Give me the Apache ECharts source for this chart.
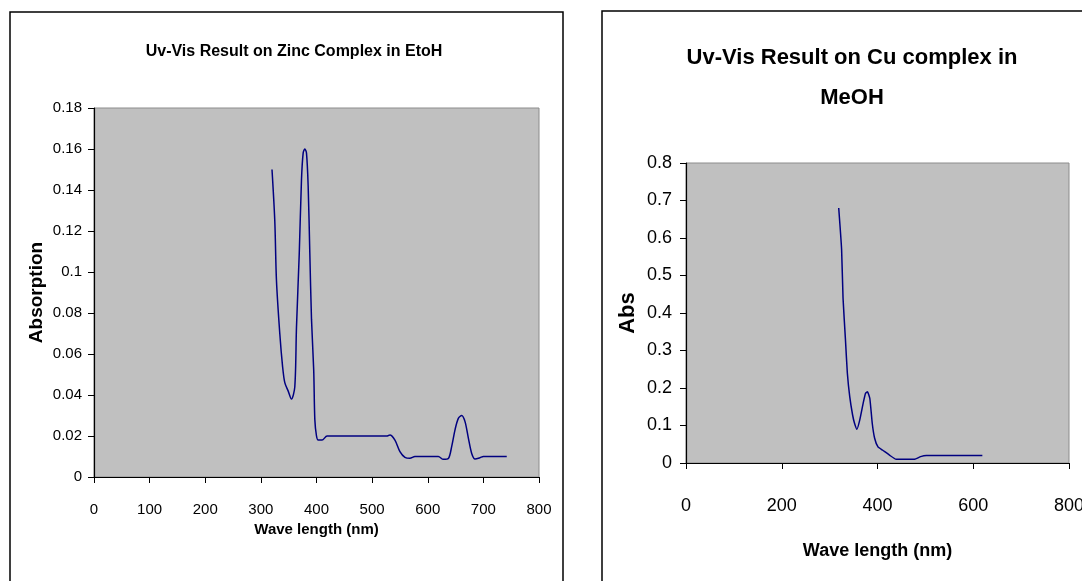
<!DOCTYPE html>
<html>
<head>
<meta charset="utf-8">
<script src="https://cdn.jsdelivr.net/npm/echarts@6/dist/echarts.min.js"></script>
<style>
html,body{margin:0;padding:0;background:#fff;}
#c{width:1082px;height:581px;}
</style>
</head>
<body>
<div id="c"></div>
<script>
// ---- Data ----
const zincTitle = "Uv-Vis Result on Zinc Complex in EtoH";
const cuTitle = "Uv-Vis Result on Cu complex in\nMeOH";
const zincWavelength = [320,325,328,334,339,343,349,355,361,364,369,373,376,379,382,385,388,391,395,397,400,403,410,419,440,480,514,526,532,541,550,559,568,577,600,619,628,637,643,649,655,661,667,673,679,685,694,700,720,742];
const zincAbs = [0.150,0.125,0.096,0.070,0.054,0.046,0.042,0.038,0.044,0.073,0.109,0.145,0.158,0.160,0.158,0.142,0.109,0.077,0.052,0.028,0.020,0.018,0.018,0.020,0.020,0.020,0.020,0.020,0.0205,0.018,0.0124,0.0096,0.0091,0.010,0.010,0.010,0.0086,0.009,0.0148,0.023,0.0286,0.030,0.027,0.019,0.0115,0.0088,0.0094,0.010,0.010,0.010];
const cuWavelength = [319,325,328,333,337,342,348,352,357,363,370,375,379,384,389,394,401,411,425,439,477,490,502,540,580,619];
const cuAbs = [0.68,0.57,0.44,0.33,0.24,0.177,0.128,0.106,0.09,0.115,0.159,0.186,0.19,0.172,0.106,0.066,0.043,0.034,0.021,0.01,0.01,0.017,0.02,0.02,0.02,0.02];
const zincXTicks = {min:0, max:800, interval:100};
const zincYTicks = {min:0, max:0.18, interval:0.02};
const cuXTicks = {min:0, max:800, interval:200};
const cuYTicks = {min:0, max:0.8, interval:0.1};

const FONT = "'Liberation Sans', Arial, sans-serif";
const chart = echarts.init(document.getElementById('c'), null, {renderer:'canvas'});

function pairs(xs, ys){ return xs.map((x,i)=>[x, ys[i]]); }
function fmt(v){ return String(+v.toFixed(2)); }

function axisCommon(fontSize, margin){
  return {
    axisLine:{show:true, onZero:false, lineStyle:{color:'#000', width:1.2}},
    axisTick:{show:true, inside:false, length:6, lineStyle:{color:'#000'}},
    splitLine:{show:false},
    axisLabel:{color:'#000', fontFamily:FONT, fontSize:fontSize, margin:margin, formatter:fmt}
  };
}

const option = {
  backgroundColor:'#fff',
  animation:false,
  title:[
    {text:zincTitle, left:289, top:39, textAlign:'center',
     textStyle:{fontFamily:FONT, fontWeight:'bold', fontSize:16, color:'#000'}},
    {text:cuTitle, left:847, top:33, textAlign:'center',
     textStyle:{fontFamily:FONT, fontWeight:'bold', fontSize:22, lineHeight:40, color:'#000'}}
  ],
  graphic:[
    {type:'rect', shape:{x:10, y:12, width:553, height:620}, style:{fill:'none', stroke:'#000', lineWidth:1.5}, z:-1},
    {type:'rect', shape:{x:602, y:11, width:520, height:620}, style:{fill:'none', stroke:'#000', lineWidth:1.5}, z:-1}
  ],
  grid:[
    {left:94, top:108, width:445, height:369, show:true, backgroundColor:'#c0c0c0', borderColor:'#8c8c8c', borderWidth:1, outerBoundsMode:'none', containLabel:false},
    {left:686, top:163, width:383, height:300, show:true, backgroundColor:'#c0c0c0', borderColor:'#8c8c8c', borderWidth:1, outerBoundsMode:'none', containLabel:false}
  ],
  xAxis:[
    Object.assign(axisCommon(15, 25), {gridIndex:0, type:'value', min:zincXTicks.min, max:zincXTicks.max, interval:zincXTicks.interval,
      name:'Wave length (nm)', nameLocation:'middle', nameGap:37,
      nameTextStyle:{fontFamily:FONT, fontWeight:'bold', fontSize:15, color:'#000'}}),
    Object.assign(axisCommon(18, 34), {gridIndex:1, type:'value', min:cuXTicks.min, max:cuXTicks.max, interval:cuXTicks.interval,
      name:'Wave length (nm)', nameLocation:'middle', nameGap:79,
      nameTextStyle:{fontFamily:FONT, fontWeight:'bold', fontSize:18, color:'#000'}})
  ],
  yAxis:[
    Object.assign(axisCommon(15, 12), {gridIndex:0, type:'value', min:zincYTicks.min, max:zincYTicks.max, interval:zincYTicks.interval,
      name:'Absorption', nameLocation:'middle', nameGap:48, nameRotate:90,
      nameTextStyle:{fontFamily:FONT, fontWeight:'bold', fontSize:19, color:'#000'}}),
    Object.assign(axisCommon(18, 14), {gridIndex:1, type:'value', min:cuYTicks.min, max:cuYTicks.max, interval:cuYTicks.interval,
      name:'Abs', nameLocation:'middle', nameGap:47, nameRotate:90,
      nameTextStyle:{fontFamily:FONT, fontWeight:'bold', fontSize:22, color:'#000'}})
  ],
  series:[
    {type:'line', xAxisIndex:0, yAxisIndex:0, data:pairs(zincWavelength, zincAbs), smooth:0.3, showSymbol:false,
     lineStyle:{color:'#000080', width:1.5}},
    {type:'line', xAxisIndex:1, yAxisIndex:1, data:pairs(cuWavelength, cuAbs), smooth:0.15, showSymbol:false,
     lineStyle:{color:'#000080', width:1.5}}
  ]
};
chart.setOption(option);
</script>
</body>
</html>
